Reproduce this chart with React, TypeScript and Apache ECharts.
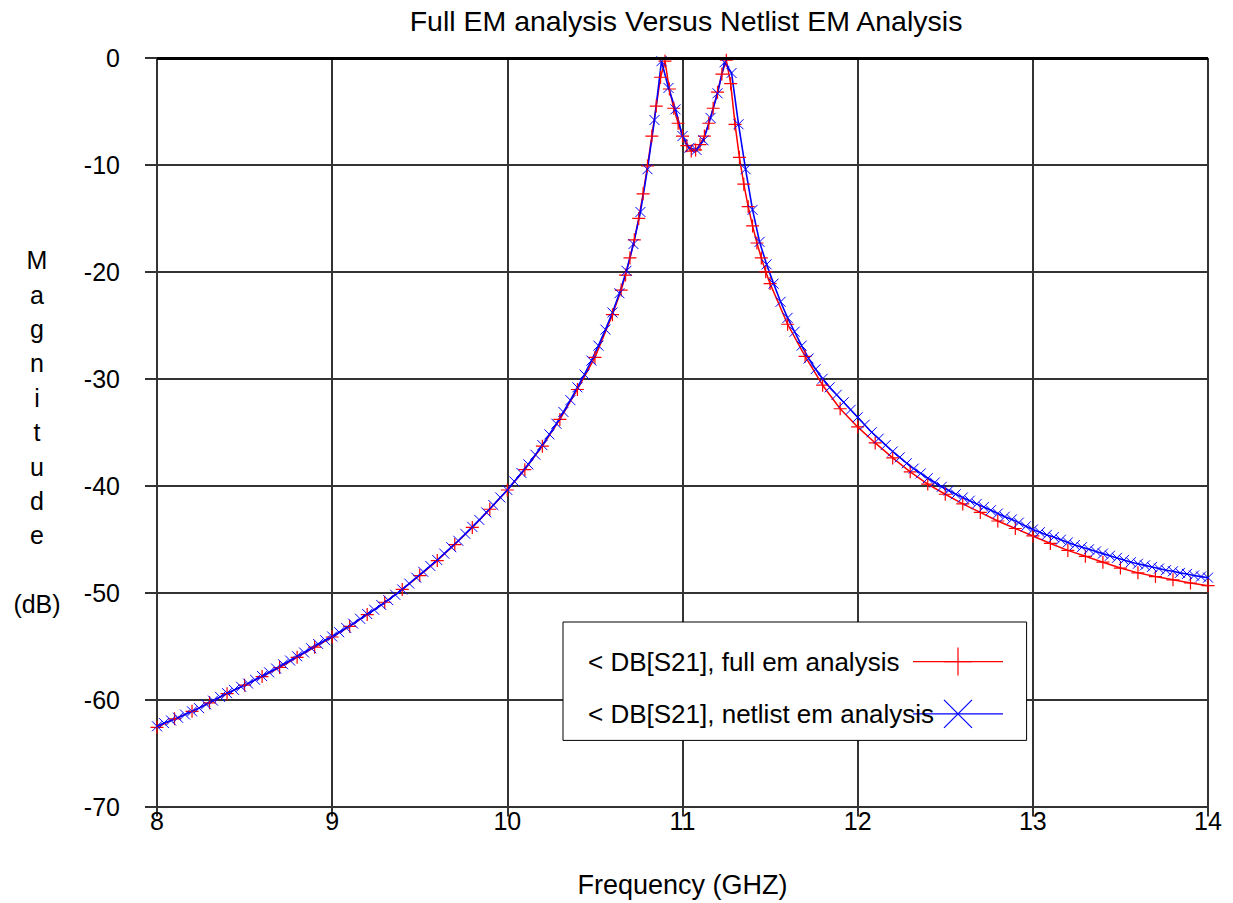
import React, { useEffect, useRef } from "react";
import * as echarts from "echarts";

const FONT = '"Liberation Sans", Arial, Helvetica, sans-serif';

const TITLE = "Full EM analysis Versus Netlist EM Analysis";
const X_NAME = "Frequency (GHZ)";
const Y_NAME = "M\na\ng\nn\ni\nt\nu\nd\ne\n\n(dB)";
const NAME_FULL = "< DB[S21], full em analysis";
const NAME_NET = "< DB[S21], netlist em analysis";

const X_MIN = 8;
const X_MAX = 14;
const X_STEP = 1;
const Y_MIN = -70;
const Y_MAX = 0;
const Y_STEP = 10;

// full em analysis (adaptive sweep: 0.1 GHz, 0.025 GHz around the passband)
const fullFreq = [
  8.0, 8.1, 8.2, 8.3, 8.4, 8.5, 8.6, 8.7, 8.8, 8.9, 9.0, 9.1, 9.2, 9.3, 9.4, 9.5,
  9.6, 9.7, 9.8, 9.9, 10.0, 10.1, 10.2, 10.3, 10.4, 10.5, 10.6,
  10.65, 10.675, 10.7, 10.725, 10.75, 10.775, 10.8, 10.825, 10.85, 10.875, 10.9,
  10.925, 10.95, 10.975, 11.0, 11.025, 11.05, 11.075, 11.1, 11.125, 11.15, 11.175,
  11.2, 11.225, 11.25, 11.275, 11.3, 11.325, 11.35, 11.375, 11.4, 11.425, 11.45,
  11.475, 11.5,
  11.6, 11.7, 11.8, 11.9, 12.0, 12.1, 12.2, 12.3, 12.4, 12.5, 12.6, 12.7, 12.8,
  12.9, 13.0, 13.1, 13.2, 13.3, 13.4, 13.5, 13.6, 13.7, 13.8, 13.9, 14.0,
];
const fullDb = [
  -62.6, -61.8, -61.1, -60.3, -59.45, -58.65, -57.85, -57.0, -56.05, -55.1, -54.15,
  -53.15, -52.05, -50.9, -49.7, -48.4, -47.0, -45.5, -43.9, -42.2, -40.4, -38.5,
  -36.3, -33.8, -31.0, -28.0, -24.0,
  -21.7, -20.3, -18.7, -17.0, -15.0, -12.7, -10.1, -7.3, -4.5, -1.8, -0.3,
  -2.9, -4.7, -6.1, -7.3, -8.2, -8.7, -8.6, -8.1, -7.3, -6.1, -4.7,
  -3.2, -1.5, -0.2, -2.4, -6.2, -9.3, -11.8, -13.9, -15.7, -17.3, -18.7,
  -20.0, -21.1,
  -24.9, -27.9, -30.6, -32.8, -34.5, -36.0, -37.4, -38.7, -39.85, -40.8, -41.7,
  -42.5, -43.3, -44.0, -44.7, -45.4, -46.05, -46.6, -47.15, -47.7, -48.15, -48.5,
  -48.8, -49.1, -49.35,
];

// netlist em analysis (uniform sweep 8..14 GHz, 0.04 GHz step)
const netStart = 8.0;
const netStep = 0.04;
const netDb = [
  -62.5, -62.2, -61.95, -61.7, -61.4, -61.1, -60.8, -60.45, -60.1, -59.75,
  -59.4, -59.1, -58.8, -58.5, -58.15, -57.8, -57.45, -57.1, -56.7, -56.35,
  -55.95, -55.6, -55.2, -54.8, -54.45, -54.1, -53.7, -53.3, -52.9, -52.45,
  -52.0, -51.6, -51.15, -50.7, -50.2, -49.7, -49.15, -48.6, -48.05, -47.5,
  -46.95, -46.35, -45.75, -45.15, -44.5, -43.85, -43.2, -42.5, -41.8, -41.1,
  -40.4, -39.6, -38.8, -38.0, -37.1, -36.2, -35.2, -34.2, -33.1, -32.0,
  -30.8, -29.6, -28.3, -26.9, -25.4, -23.8, -22.0, -19.9, -17.4, -14.4,
  -10.4, -5.8, -0.3, -2.8, -4.8, -7.3, -8.4, -8.6, -7.7, -5.6,
  -3.3, -0.4, -1.4, -6.2, -10.4, -14.2, -17.2, -19.3, -21.1, -22.8,
  -24.3, -25.6, -26.9, -28.1, -29.1, -30.0, -30.8, -31.5, -32.2, -32.9,
  -33.6, -34.3, -35.0, -35.6, -36.2, -36.8, -37.35, -37.9, -38.4, -38.85,
  -39.3, -39.7, -40.1, -40.45, -40.8, -41.1, -41.4, -41.7, -42.0, -42.3,
  -42.6, -42.9, -43.15, -43.45, -43.8, -44.1, -44.35, -44.6, -44.8, -45.05,
  -45.3, -45.55, -45.75, -45.95, -46.15, -46.35, -46.55, -46.75, -46.95, -47.15,
  -47.3, -47.45, -47.6, -47.75, -47.9, -48.0, -48.15, -48.25, -48.4, -48.5,
  -48.6,
];

const RED = "#ff0000";
const BLUE = "#0000ff";
const PLUS = "path://M5,0L5,10M0,5L10,5";
const CROSS = "path://M0,0L10,10M10,0L0,10";

export default function App() {
  const ref = useRef<HTMLDivElement>(null);

  useEffect(() => {
    if (!ref.current) return;
    const chart = echarts.init(ref.current, undefined, { renderer: "svg" });

    const fullData = fullFreq.map((f, i) => [f, fullDb[i]]);
    const netData = netDb.map((v, i) => [
      Math.round((netStart + i * netStep) * 1000) / 1000,
      v,
    ]);

    const gridLine = { color: "#333", width: 2 };

    chart.setOption({
      animation: false,
      backgroundColor: "#fff",
      textStyle: { fontFamily: FONT },
      title: {
        text: TITLE,
        left: 681,
        top: 1,
        textAlign: "center",
        textStyle: {
          fontFamily: FONT,
          fontSize: 28.5,
          fontWeight: "normal",
          color: "#000",
        },
      },
      grid: { left: 157, right: 25, top: 58, bottom: 95, containLabel: false },
      legend: {
        orient: "vertical",
        left: 563,
        top: 622,
        align: "right",
        padding: [25, 23, 12, 25],
        itemGap: 23,
        itemWidth: 90,
        itemHeight: 35,
        backgroundColor: "#fff",
        borderColor: "#000",
        borderWidth: 1,
        borderRadius: 0,
        formatter: (name: string) => "{t|" + name + "}",
        textStyle: {
          rich: {
            t: {
              width: 320,
              align: "left",
              fontSize: 26,
              fontFamily: FONT,
              color: "#000",
            },
          },
        },
        data: [
          {
            name: NAME_FULL,
            itemStyle: { color: RED, borderColor: RED, borderWidth: 1.2 },
            lineStyle: { color: RED, width: 1.2 },
          },
          {
            name: NAME_NET,
            itemStyle: { color: BLUE, borderColor: BLUE, borderWidth: 1.2 },
            lineStyle: { color: BLUE, width: 1.2 },
          },
        ],
      },
      xAxis: {
        type: "value",
        min: X_MIN,
        max: X_MAX,
        interval: X_STEP,
        name: X_NAME,
        nameLocation: "middle",
        nameGap: 78,
        nameTextStyle: {
          fontFamily: FONT,
          fontSize: 27,
          color: "#000",
          verticalAlign: "middle",
        },
        axisLine: { show: true, onZero: false, lineStyle: gridLine },
        axisTick: { show: true, length: 10, lineStyle: gridLine },
        axisLabel: {
          fontFamily: FONT,
          fontSize: 25,
          color: "#000",
          margin: 2,
        },
        splitLine: { show: true, lineStyle: gridLine },
      },
      yAxis: {
        type: "value",
        min: Y_MIN,
        max: Y_MAX,
        interval: Y_STEP,
        name: Y_NAME,
        nameLocation: "middle",
        nameRotate: 0,
        nameGap: 120,
        nameTextStyle: {
          fontFamily: FONT,
          fontSize: 25,
          lineHeight: 34.4,
          color: "#000",
          align: "center",
          verticalAlign: "middle",
        },
        axisLine: { show: true, onZero: false, lineStyle: gridLine },
        axisTick: { show: true, length: 12, lineStyle: gridLine },
        axisLabel: {
          fontFamily: FONT,
          fontSize: 25,
          color: "#000",
          margin: 37,
        },
        splitLine: { show: true, lineStyle: gridLine },
      },
      series: [
        {
          name: NAME_FULL,
          type: "line",
          data: fullData,
          symbol: PLUS,
          symbolSize: 13,
          showAllSymbol: true,
          lineStyle: { color: RED, width: 1.5 },
          itemStyle: { color: RED, borderColor: RED, borderWidth: 1.2 },
          markLine: {
            silent: true,
            symbol: "none",
            label: { show: false },
            lineStyle: { color: "#000", width: 3, type: "solid" },
            data: [{ yAxis: 0 }],
          },
        },
        {
          name: NAME_NET,
          type: "line",
          data: netData,
          symbol: CROSS,
          symbolSize: 10,
          showAllSymbol: true,
          lineStyle: { color: BLUE, width: 1.6 },
          itemStyle: { color: BLUE, borderColor: BLUE, borderWidth: 1 },
        },
      ],
    });

    return () => chart.dispose();
  }, []);

  return (
    <div
      ref={ref}
      style={{ position: "fixed", left: 0, top: 0, width: 1233, height: 903 }}
    />
  );
}
